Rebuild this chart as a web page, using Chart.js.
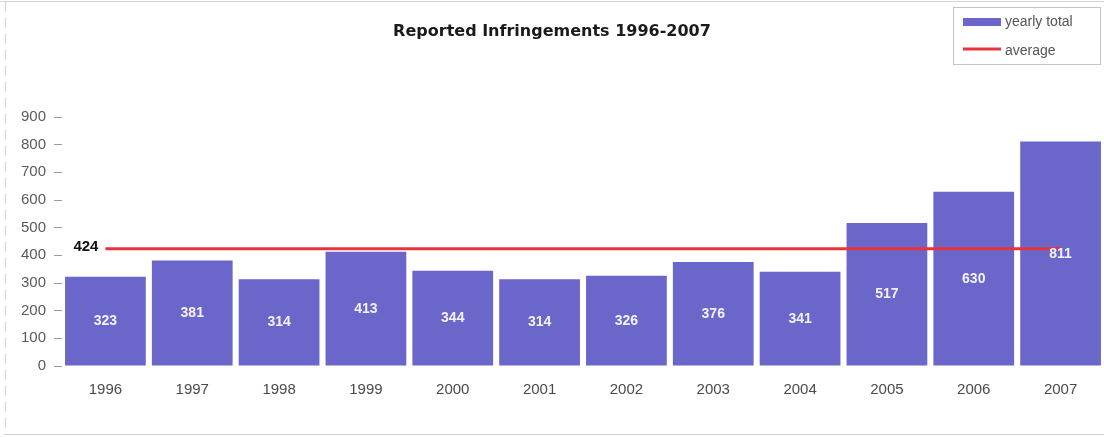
<!DOCTYPE html>
<html>
<head>
<meta charset="utf-8">
<script src="https://cdn.jsdelivr.net/npm/chart.js@4/dist/chart.umd.min.js"></script>
<style>
html,body{margin:0;padding:0;background:#fff;}
#wrap{width:1104px;height:437px;position:relative;}
</style>
</head>
<body>
<div id="wrap"><canvas id="c" width="1104" height="437"></canvas></div>
<script>
const titleText = "Reported Infringements 1996-2007";
const categories = ["1996","1997","1998","1999","2000","2001","2002","2003","2004","2005","2006","2007"];
const yearlyTotals = [323,381,314,413,344,314,326,376,341,517,630,811];
const averageValue = 424;
const averageLine = categories.map(() => averageValue);
const yTicks = [0,100,200,300,400,500,600,700,800,900];
const seriesNames = ["yearly total","average"];

const BAR_COLOR = "#6b66c9";
const LINE_COLOR = "#e5343c";
const FONT = "'Liberation Sans', Arial, sans-serif";

const decor = {
  id: "decor",
  afterDatasetsDraw(chart) {
    const ctx = chart.ctx;
    const ys = chart.scales.y;
    const barMeta = chart.getDatasetMeta(0);
    const lineMeta = chart.getDatasetMeta(1);
    ctx.save();
    // bar value labels (centred in each bar)
    ctx.font = "bold 14px " + FONT;
    ctx.fillStyle = "#f4f2ff";
    ctx.textAlign = "center";
    ctx.textBaseline = "middle";
    barMeta.data.forEach((el, i) => {
      const v = yearlyTotals[i];
      const y = ys.getPixelForValue(v / 2);
      ctx.fillText(String(v), el.x, y);
    });
    // average label
    const p0 = lineMeta.data[0];
    ctx.fillStyle = "#111";
    ctx.font = "bold 15px " + FONT;
    ctx.textAlign = "right";
    ctx.fillText(String(averageValue), p0.x - 7, p0.y - 2);
    // frame
    ctx.strokeStyle = "#d4d4d4";
    ctx.lineWidth = 1;
    ctx.beginPath();
    ctx.moveTo(0, 1.5); ctx.lineTo(1104, 1.5);
    ctx.moveTo(4, 434.5); ctx.lineTo(1104, 434.5);
    ctx.stroke();
    ctx.setLineDash([10, 6]);
    ctx.beginPath();
    ctx.moveTo(5.5, 2); ctx.lineTo(5.5, 434);
    ctx.stroke();
    ctx.setLineDash([]);
    // legend
    const lx = 953, ly = 7, lw = 147, lh = 57;
    ctx.strokeStyle = "#c4c4c4";
    ctx.strokeRect(lx + 0.5, ly + 0.5, lw, lh);
    ctx.fillStyle = BAR_COLOR;
    ctx.fillRect(963, 18, 38, 8);
    ctx.strokeStyle = LINE_COLOR;
    ctx.lineWidth = 3;
    ctx.beginPath(); ctx.moveTo(963, 49); ctx.lineTo(1001, 49); ctx.stroke();
    ctx.fillStyle = "#555";
    ctx.font = "14px " + FONT;
    ctx.textAlign = "left";
    ctx.fillText(seriesNames[0], 1005, 22);
    ctx.fillText(seriesNames[1], 1005, 51);
    ctx.restore();
  }
};

new Chart(document.getElementById("c"), {
  data: {
    labels: categories,
    datasets: [
      {
        type: "bar",
        label: seriesNames[0],
        data: yearlyTotals,
        backgroundColor: BAR_COLOR,
        borderWidth: 0,
        barPercentage: 0.93,
        categoryPercentage: 1.0,
        order: 2
      },
      {
        type: "line",
        label: seriesNames[1],
        data: averageLine,
        borderColor: LINE_COLOR,
        borderWidth: 3,
        pointRadius: 0,
        fill: false,
        order: 1
      }
    ]
  },
  options: {
    responsive: false,
    animation: false,
    devicePixelRatio: 1,
    layout: { padding: { top: 0, left: 0, right: 0, bottom: 0 } },
    plugins: {
      legend: { display: false },
      tooltip: { enabled: false },
      title: {
        display: true,
        text: titleText,
        color: "#1a1a1a",
        font: { family: "'DejaVu Sans', sans-serif", size: 16, weight: "bold" },
        padding: { top: 22, bottom: 75.8 }
      }
    },
    scales: {
      x: {
        grid: { display: false },
        border: { display: false },
        ticks: {
          color: "#4a4a4a",
          font: { family: FONT, size: 15 },
          padding: 7,
          maxRotation: 0
        },
        afterFit(s) { s.height = 71; }
      },
      y: {
        min: 0,
        max: 900,
        afterBuildTicks(s) { s.ticks = yTicks.map(v => ({ value: v })); },
        grid: { display: true, drawOnChartArea: false, drawTicks: true, tickLength: 8, color: "#9a9a9a" },
        border: { display: false },
        ticks: {
          color: "#5a5a5a",
          font: { family: FONT, size: 15 },
          padding: 8
        },
        afterFit(s) { s.width = 62; }
      }
    }
  },
  plugins: [decor]
});
</script>
</body>
</html>
